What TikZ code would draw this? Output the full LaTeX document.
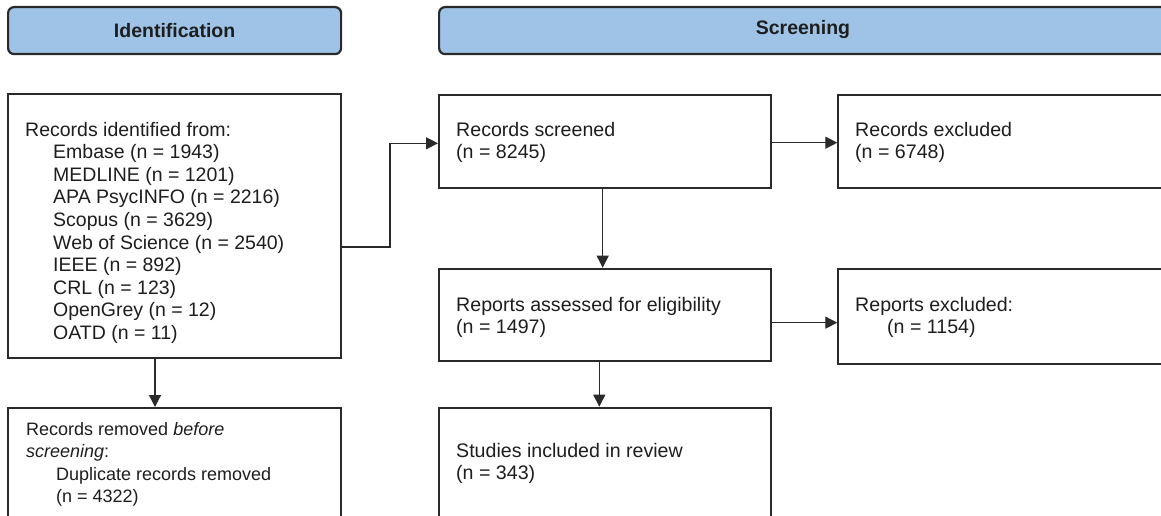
\documentclass[tikz,border=0pt]{standalone}
\usepackage{fontspec}
\setmainfont{Liberation Sans}
\usetikzlibrary{arrows.meta,calc}
\definecolor{hdrblue}{HTML}{9FC3E6}
\definecolor{edgec}{HTML}{2A2A2A}
\definecolor{txtc}{HTML}{1E1E1E}
\newcommand{\lines}[1]{\begin{tabular}[t]{@{}l@{}}#1\end{tabular}}
\begin{document}
\begin{tikzpicture}[x=1pt,y=-1pt,
  hdr/.style={draw=edgec,line width=2.2pt,fill=hdrblue,rounded corners=6pt,minimum height=47pt,inner sep=0pt,anchor=north west},
  hdrtxt/.style={text=txtc,font=\bfseries\fontsize{19.5}{22}\selectfont},
  box/.style={draw=edgec,line width=2pt,fill=white,inner sep=0pt,anchor=north west},
  lefttxt/.style={anchor=base west,inner sep=0pt,text=txtc,font=\fontsize{19.5}{22.6}\selectfont},
  remtxt/.style={anchor=base west,inner sep=0pt,text=txtc,font=\fontsize{18}{22.6}\selectfont},
  righttxt/.style={anchor=base west,inner sep=0pt,text=txtc,font=\fontsize{19.6}{22.2}\selectfont},
  conn/.style={draw=edgec,line width=1.2pt},
  arr/.style={conn,-{Triangle[length=12pt,width=12pt]}}]
\useasboundingbox (0,0) rectangle (1161,516);
\clip (0,0) rectangle (1161,516);
\fill[white] (0,0) rectangle (1161,516);
% headers
\node[hdr,minimum width=333pt] (hid) at (7,6) {};
\node[hdrtxt] (hidT) at (hid.center) {Identification};
\node[hdr,minimum width=760pt] (hsc) at (438,6) {};
\node[hdrtxt] (hscT) at (803,29.5) {Screening};
% boxes
\node[box,minimum width=333pt,minimum height=264pt] (ident) at (7,93) {};
\node[box,minimum width=333pt,minimum height=150pt] (removed) at (7,407) {};
\node[box,minimum width=332pt,minimum height=92.4pt] (screened) at (438,94.3) {};
\node[box,minimum width=400pt,minimum height=92.4pt] (recex) at (837.3,94.3) {};
\node[box,minimum width=332pt,minimum height=92.3pt] (assessed) at (438,267.7) {};
\node[box,minimum width=400pt,minimum height=95pt] (repex) at (837.3,268.3) {};
\node[box,minimum width=332pt,minimum height=150pt] (studies) at (438,406.7) {};
% texts
\node[lefttxt] (identT) at (25,136) {\lines{Records identified from:\\
\hspace*{28pt}Embase (n = 1943)\\
\hspace*{28pt}MEDLINE (n = 1201)\\
\hspace*{28pt}APA PsycINFO (n = 2216)\\
\hspace*{28pt}Scopus (n = 3629)\\
\hspace*{28pt}Web of Science (n = 2540)\\
\hspace*{28pt}IEEE (n = 892)\\
\hspace*{28pt}CRL (n = 123)\\
\hspace*{28pt}OpenGrey (n = 12)\\
\hspace*{28pt}OATD (n = 11)}};
\node[remtxt] (removedT) at (26,435) {\lines{Records removed \textit{before}\\
\textit{screening}:\\
\hspace*{30pt}Duplicate records removed\\
\hspace*{30pt}(n = 4322)}};
\node[righttxt] (screenedT) at (456,136.7) {\lines{Records screened\\(n = 8245)}};
\node[righttxt] (recexT) at (855,136.7) {\lines{Records excluded\\(n = 6748)}};
\node[righttxt] (assessedT) at (456,311.5) {\lines{Reports assessed for eligibility\\(n = 1497)}};
\node[righttxt] (repexT) at (855,311.5) {\lines{Reports excluded:\\\hspace*{32pt}(n = 1154)}};
\node[righttxt] (studiesT) at (456,457.5) {\lines{Studies included in review\\(n = 343)}};
% connectors
\draw[arr] ([xshift=148pt]ident.south west) -- ([xshift=148pt]removed.north west);
\draw[arr] ([yshift=-21pt]ident.east) -- ++(48,0) |- ([yshift=-1.8pt]screened.west);
\draw[arr] ([yshift=-1.2pt]screened.east) -- ([yshift=-1.2pt]screened.east -| recex.west);
\draw[arr] ([xshift=164.7pt]screened.south west) -- ([xshift=164.7pt]assessed.north west);
\draw[arr] ([yshift=-7.8pt]assessed.east) -- ([yshift=-7.8pt]assessed.east -| repex.west);
\draw[arr] ([xshift=161.3pt]assessed.south west) -- ([xshift=161.3pt]studies.north west);
\end{tikzpicture}
\end{document}
